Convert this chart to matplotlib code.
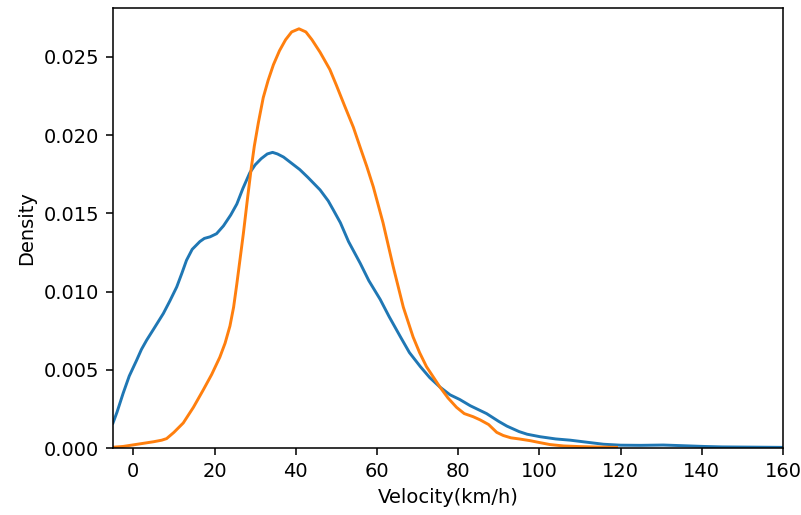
import matplotlib
matplotlib.use("Agg")
import matplotlib.pyplot as plt

# Blue series
blue_x = [-5, -4, -2.5, -1, 0.8, 2, 3.3, 5, 7.4, 9, 10.7, 12, 13.1, 14.5, 16.4, 17.5, 18.9, 20.5, 22.2, 24,
          25.5, 27, 28.7, 30, 31.5, 33, 34.3, 35.5, 37, 39, 41, 43, 46, 48, 49.3, 51, 53, 55.9, 58, 60.8, 63,
          65.8, 68, 70.7, 73, 75.5, 78, 80.4, 83, 85.4, 87, 90, 92, 95, 97, 100.2, 104, 107.6, 112, 115.8, 120,
          125, 130.5, 135, 140.4, 145, 150, 155, 160]
blue_y = [0.0016, 0.0023, 0.0035, 0.0046, 0.0056, 0.0063, 0.0069, 0.0076, 0.0086, 0.0094, 0.0103, 0.0112, 0.0120,
          0.0127, 0.0132, 0.0134, 0.0135, 0.0137, 0.0142, 0.0149,
          0.0156, 0.0166, 0.0176, 0.0181, 0.0185, 0.0188, 0.0189, 0.0188, 0.0186, 0.0182, 0.0178, 0.0173, 0.0165,
          0.0158, 0.0152, 0.0144, 0.0132, 0.0118, 0.0107, 0.0095, 0.0084,
          0.0071, 0.0061, 0.0052, 0.0045, 0.0039, 0.0034, 0.0031, 0.0027, 0.0024, 0.0022, 0.0017, 0.0014, 0.00105,
          0.00088, 0.00072, 0.00058, 0.00050, 0.00036, 0.00024, 0.00018,
          0.00017, 0.00019, 0.00015, 0.00010, 0.00007, 0.00006, 0.00005, 0.00004]

# Orange series
orange_x = [-5, -2.5, 0, 2.5, 5, 7, 8.2, 10, 12.3, 14.8, 17.2, 19.3, 21.3, 22.6, 23.8, 24.7, 25.5, 26.3, 27.1,
            28.1, 29, 29.8, 30.8, 32, 33.2, 34.5, 36, 37.5, 39, 40.8, 42.5, 44, 46, 48.4, 50, 52, 54.2, 55.9,
            57.5, 59.1, 61.5, 64, 66.5, 68.9, 70.5, 72.2, 75.5, 77.5, 79.6, 81.5, 83.7, 85.4, 87.5,
            89.5, 91.1, 93, 95, 97.7, 100, 102.6, 106, 110, 115, 119]
orange_y = [0.00005, 0.0001, 0.0002, 0.0003, 0.0004, 0.0005, 0.0006, 0.0010, 0.0016, 0.0026, 0.0037, 0.0047,
            0.0058, 0.0067, 0.0078, 0.0090, 0.0105, 0.0121, 0.0137,
            0.0159, 0.0178, 0.0193, 0.0208, 0.0224, 0.0235, 0.0245, 0.0254, 0.0261, 0.0266, 0.0268, 0.0266,
            0.0261, 0.0253, 0.0242, 0.0232, 0.0219, 0.0205, 0.0192,
            0.0180, 0.0167, 0.0144, 0.0116, 0.0090, 0.0071, 0.0061, 0.0052, 0.0039, 0.0032, 0.0026, 0.0022,
            0.0020, 0.0018, 0.0015,
            0.0010, 0.0008, 0.00065, 0.00058, 0.00047, 0.00035, 0.00022, 0.00013, 0.00009, 0.00006, 0.00004]

xticks = [0, 20, 40, 60, 80, 100, 120, 140, 160]
yticks = [0.000, 0.005, 0.010, 0.015, 0.020, 0.025]

fig = plt.figure(figsize=(801 / 140, 515 / 140), dpi=140)
ax = fig.add_axes([113 / 801, 1 - 448 / 515, 670 / 801, 440 / 515])
ax.plot(blue_x, blue_y, color="#1f77b4", lw=1.5)
ax.plot(orange_x, orange_y, color="#ff7f0e", lw=1.5)
ax.set_xlim(-5, 160)
ax.set_ylim(0, 0.02813)
ax.set_xticks(xticks)
ax.set_yticks(yticks)
ax.set_yticklabels([f"{v:.3f}" for v in yticks])
ax.set_xlabel("Velocity(km/h)")
ax.set_ylabel("Density")
fig.savefig("out.png", dpi=140)
